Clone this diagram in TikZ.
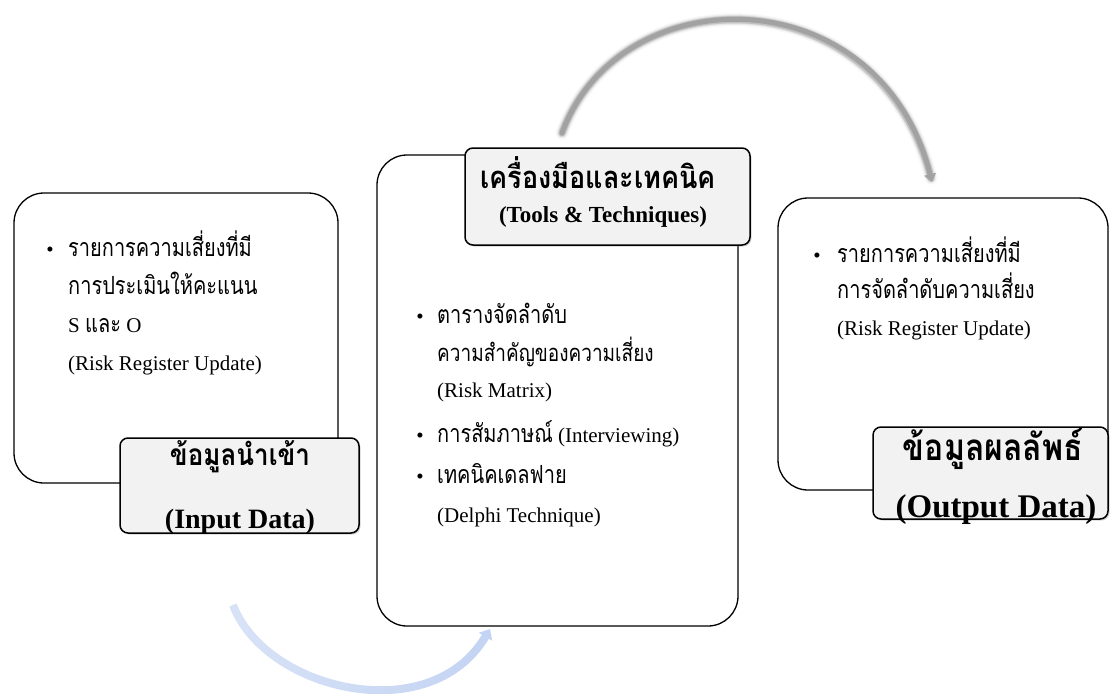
\documentclass[tikz,border=0pt]{standalone}
\usepackage{fontspec}
\setmainfont{Liberation Serif}
\newfontfamily\thaifont[Script=Thai]{Loma}
\usetikzlibrary{arrows.meta,shadows,fadings}
% Thai runs are set a little taller than Loma's natural proportions
\newcommand\tht[1]{\scalebox{1}[1.25]{\thaifont #1}}
\newcommand\thead[1]{\scalebox{1}[1.15]{\thaifont\bfseries #1}}
\definecolor{labelfill}{HTML}{F2F2F2}
\definecolor{arcgray}{HTML}{A2A2A2}
\definecolor{arcblue}{HTML}{C3D3F3}
\tikzfading[name=bluefade, left color=transparent!35, right color=transparent!0]
\begin{document}
\begin{tikzpicture}[x=1pt,y=-1pt,
  panel/.style={draw=black, line width=1.3pt, rounded corners=30pt, fill=white, inner sep=0pt},
  labelbox/.style={draw=black, line width=1.5pt, rounded corners=8pt, fill=labelfill, inner sep=0pt,
    drop shadow={shadow xshift=1.5pt, shadow yshift=-1.5pt, opacity=0.35, fill=gray}},
  bodyline/.style={anchor=base west, inner sep=0pt, font=\fontsize{21}{25}\selectfont},
  dot/.style={anchor=base, inner sep=0pt, font=\fontsize{21}{25}\selectfont},
  headline/.style={anchor=base, inner sep=0pt},
]
\useasboundingbox (0,0) rectangle (1110,693);

% ---- panels ----
\node[panel, minimum width=324pt, minimum height=290pt] (inpanel)  at (176,338) {};
\node[panel, minimum width=361pt, minimum height=471pt] (toolpanel) at (557.5,390.5) {};
\node[panel, minimum width=330pt, minimum height=292pt] (outpanel) at (943,344) {};

% ---- input data text ----
\node[dot] (ib1) at (50,256) {•};
\node[bodyline] (i1) at (68,256) {\fontsize{20}{25}\selectfont\tht{รายการความเสี่ยงที่มี}};
\node[bodyline] (i2) at (68,294) {\fontsize{20}{25}\selectfont\tht{การประเมินให้คะแนน}};
\node[bodyline] (i3) at (68,332) {S {\fontsize{20}{25}\selectfont\tht{และ}} O};
\node[bodyline] (i4) at (68,370) {(Risk Register Update)};

% ---- tools text ----
\node[dot] (tb1) at (420,323) {•};
\node[bodyline] (t1) at (437,323) {\fontsize{20}{25}\selectfont\tht{ตารางจัดลำดับ}};
\node[bodyline] (t2) at (437,361) {\fontsize{19}{25}\selectfont\tht{ความสำคัญของความเสี่ยง}};
\node[bodyline] (t3) at (437,397) {(Risk Matrix)};
\node[dot] (tb2) at (420,442) {•};
\node[bodyline] (t4) at (437,442) {{\fontsize{20}{25}\selectfont\tht{การสัมภาษณ์}} (Interviewing)};
\node[dot] (tb3) at (420,483) {•};
\node[bodyline] (t5) at (437,483) {\fontsize{20}{25}\selectfont\tht{เทคนิคเดลฟาย}};
\node[bodyline] (t6) at (437,522) {(Delphi Technique)};

% ---- output text ----
\node[dot] (ob1) at (817,262) {•};
\node[bodyline] (o1) at (837,262) {\fontsize{20}{25}\selectfont\tht{รายการความเสี่ยงที่มี}};
\node[bodyline] (o2) at (837,298) {\fontsize{20}{25}\selectfont\tht{การจัดลำดับความเสี่ยง}};
\node[bodyline] (o3) at (837,335) {(Risk Register Update)};

% ---- label boxes ----
\node[labelbox, minimum width=239pt, minimum height=95pt] (inlabel) at (239.5,485.5) {};
\node[headline, font=\fontsize{26}{30}\selectfont] (inth) at (240,465) {\thead{ข้อมูลนำเข้า}};
\node[headline, font=\bfseries\fontsize{28}{32}\selectfont] (inen) at (240,528) {(Input Data)};

\node[labelbox, minimum width=285pt, minimum height=97pt] (toollabel) at (607.5,196.5) {};
\node[headline, font=\fontsize{27}{30}\selectfont] (toolth) at (598,188) {\thead{เครื่องมือและเทคนิค}};
\node[headline, font=\bfseries\fontsize{23}{28}\selectfont] (toolen) at (603,222) {(Tools \& Techniques)};

\node[labelbox, minimum width=235pt, minimum height=92pt] (outlabel) at (990.5,473) {};
\node[headline, font=\fontsize{32}{36}\selectfont] (outth) at (993,460) {\thead{ข้อมูลผลลัพธ์}};
\node[headline, font=\bfseries\fontsize{33}{38}\selectfont] (outen) at (996,517) {(Output Data)};

% ---- curved arrows ----
\coordinate (g0) at (562,133);
\coordinate (g1) at (932,182);
\foreach \w/\o in {13/0.07, 10.5/0.14, 8.5/0.25, 7/0.45} {
  \draw[arcgray, line width=\w pt, opacity=\o, line cap=round, shorten >=4pt]
    (g0) .. controls (620,-25) and (880,-25) .. (g1);
}
\draw[arcgray, line width=5pt, line cap=round, -{Triangle[width=12pt,length=8pt]}]
  (g0) .. controls (620,-25) and (880,-25) .. (g1);

\coordinate (b0) at (233,605);
\coordinate (b1) at (490,629);
\draw[arcblue, line width=8pt, path fading=bluefade, -{Triangle[width=15pt,length=9pt]}]
  (b0) .. controls (265,690) and (430,730) .. (b1);
\end{tikzpicture}
\end{document}
